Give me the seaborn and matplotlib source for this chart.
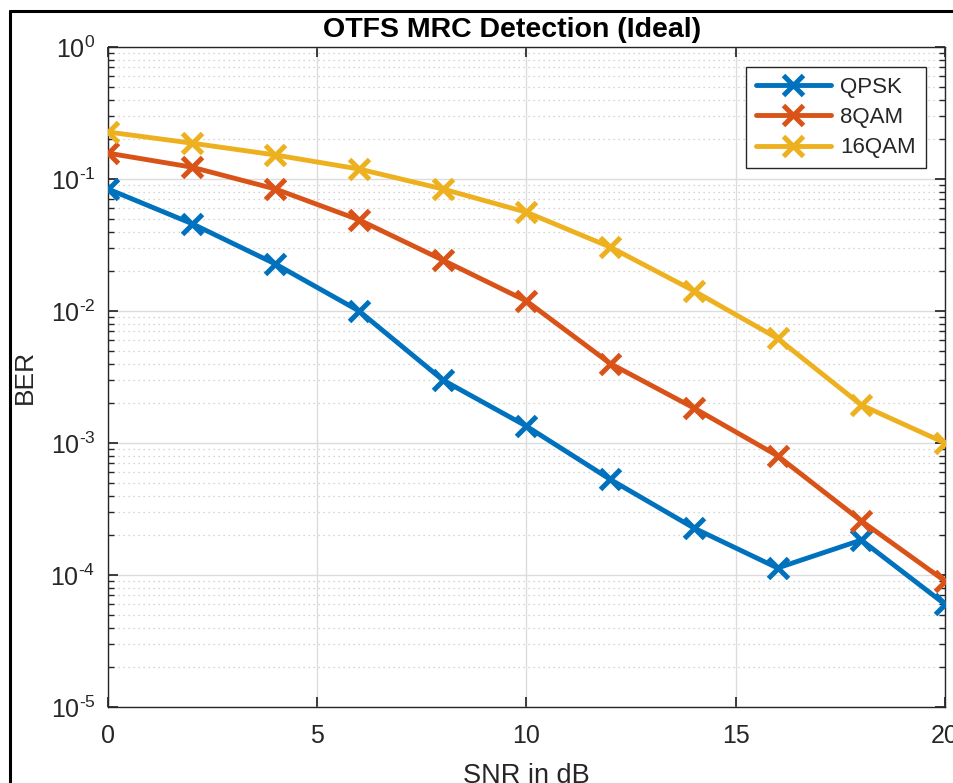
import numpy as np
import pandas as pd
import matplotlib
matplotlib.use("Agg")
import matplotlib.pyplot as plt
import seaborn as sns
from matplotlib.lines import Line2D
from matplotlib.ticker import LogLocator, FuncFormatter, NullFormatter

snr = [0, 2, 4, 6, 8, 10, 12, 14, 16, 18, 20]
ber_qpsk = [0.084, 0.046, 0.0227, 0.0100, 0.0030, 0.00134, 5.3e-4, 2.27e-4, 1.13e-4, 1.84e-4, 6.0e-5]
ber_8qam = [0.157, 0.123, 0.084, 0.049, 0.0243, 0.0119, 0.0040, 0.00184, 8.0e-4, 2.57e-4, 9.0e-5]
ber_16qam = [0.227, 0.187, 0.152, 0.119, 0.084, 0.056, 0.0305, 0.0142, 0.0062, 0.00194, 0.0010]
labels = ["QPSK", "8QAM", "16QAM"]
colors = ["#0072BD", "#D95319", "#EDB120"]

sns.set_theme(style="white")
plt.rcParams['font.family'] = ['Liberation Sans', 'DejaVu Sans']
plt.rcParams['mathtext.default'] = 'regular'

fig = plt.figure(figsize=(9.54, 7.83), dpi=100)
ax = fig.add_axes([108/954, 1-707/783, (945-108)/954, (707-47)/783])

for lab, vals, c in zip(labels, [ber_qpsk, ber_8qam, ber_16qam], colors):
    df = pd.DataFrame({"SNR": snr, "BER": vals})
    sns.lineplot(data=df, x="SNR", y="BER", ax=ax, color=c, linewidth=3.5,
                 marker="x", markersize=14, markeredgewidth=3.6, markeredgecolor=c,
                 label=lab, zorder=3)

ax.set_yscale("log")
ax.set_xlim(0, 20)
ax.set_ylim(1e-5, 1)
ax.set_xticks([0, 5, 10, 15, 20])
ax.yaxis.set_major_locator(LogLocator(base=10, numticks=10))

def fmt(v, p):
    e = int(round(np.log10(v)))
    s = str(e).replace("-", "\u2010")
    return r"$10^{%s}$" % s

ax.yaxis.set_major_formatter(FuncFormatter(fmt))
ax.yaxis.set_minor_locator(LogLocator(base=10, subs=np.arange(2, 10), numticks=20))
ax.yaxis.set_minor_formatter(NullFormatter())

ax.grid(True, which="major", color="#dcdcdc", linewidth=1.0, linestyle="-", zorder=0)
ax.grid(True, which="minor", axis="y", color="#c8c8c8", linewidth=0.9, linestyle=(0, (1, 3)), zorder=0)
ax.set_axisbelow(True)

for s in ax.spines.values():
    s.set_visible(True)
    s.set_color("#262626")
    s.set_linewidth(1.0)

ax.tick_params(which="both", direction="in", top=True, right=True, bottom=True, left=True,
               colors="#262626", labelcolor="#262626", labelsize=18)
ax.tick_params(axis="x", pad=12)
ax.tick_params(axis="y", pad=9)
ax.tick_params(which="major", length=7)
ax.tick_params(which="minor", length=4)

ax.set_title("OTFS MRC Detection (Ideal)", fontsize=20.5, fontweight="bold", color="black",
             pad=7, x=0.483)
ax.set_xlabel("SNR in dB", fontsize=19.5, color="#262626", labelpad=11)
ax.set_ylabel("BER", fontsize=19, color="#262626", labelpad=10)

leg = ax.legend(loc="upper right", fontsize=16, frameon=True, fancybox=False, shadow=False,
                edgecolor="#262626", framealpha=1, borderpad=0.45, handlelength=3.4,
                handletextpad=0.4, labelspacing=0.42, borderaxespad=0,
                bbox_to_anchor=(0.977, 0.970))
leg.get_frame().set_linewidth(1.0)

# outer black frame line (left and top)
fig.add_artist(Line2D([10/954, 10/954], [-0.1, 1-11/783], transform=fig.transFigure, color="black", linewidth=2.2))
fig.add_artist(Line2D([10/954, 1.1], [1-11/783, 1-11/783], transform=fig.transFigure, color="black", linewidth=2.2))

fig.savefig("out.png", dpi=100, facecolor="white")
